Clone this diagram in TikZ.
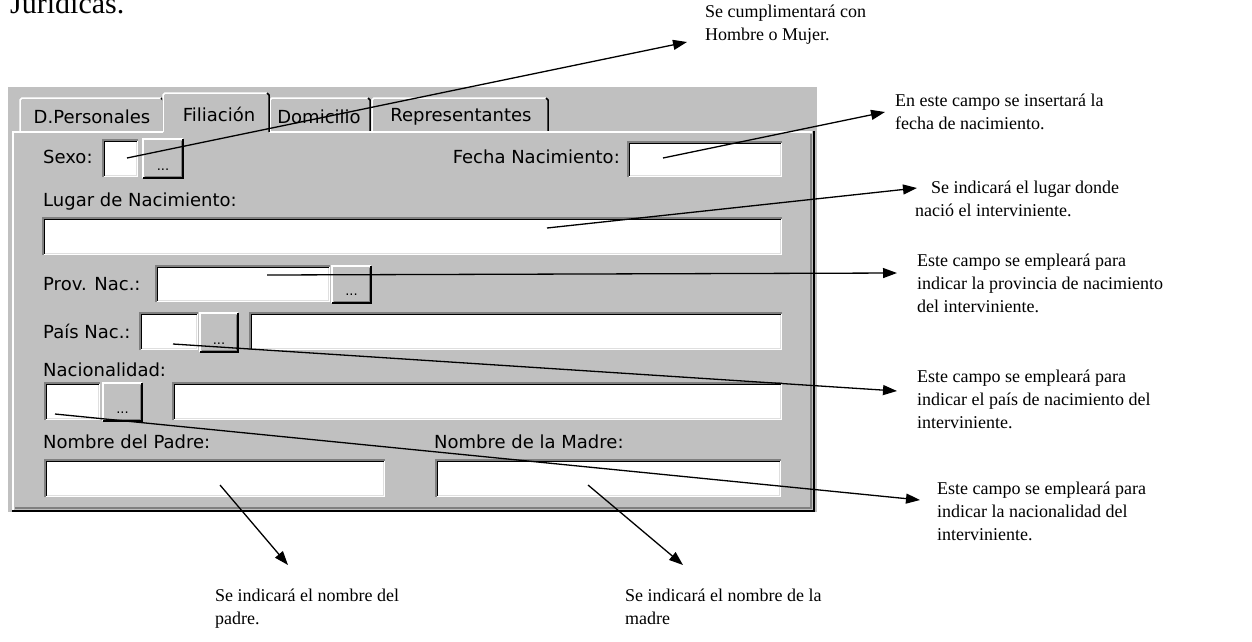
\documentclass[tikz,border=0pt]{standalone}
\usepackage{fontspec}
\setmainfont{Liberation Serif}
\newfontfamily\uifont{DejaVu Sans}
\usetikzlibrary{arrows.meta}

\definecolor{wingray}{HTML}{C0C0C0}
\definecolor{windark}{HTML}{808080}
\definecolor{winlight}{HTML}{DFDFDF}

\tikzset{
    note/.style={font=\fontsize{18}{23}\selectfont, align=left, anchor=north west, inner sep=0pt},
    ui/.style={font=\uifont\fontsize{18}{20}\selectfont, inner sep=0pt, text=black},
    pointer/.style={line width=1.3pt, -{Triangle[length=14pt,width=10pt]}},
    bevel/.style={line width=1.5pt},
}

% sunken text field: x1 y1 x2 y2
\newcommand{\editfield}[4]{%
    \fill[white] (#1,#2) rectangle (#3,#4);
    \draw[bevel, windark] (#1,#4) -- (#1,#2) -- (#3,#2);
    \draw[bevel, black] (#1+1.5,#4-1.5) -- (#1+1.5,#2+1.5) -- (#3-1.5,#2+1.5);
    \draw[bevel, winlight] (#1+1.5,#4-1.5) -- (#3-1.5,#4-1.5) -- (#3-1.5,#2+1.5);
}
% "..." button: name x1 y1 x2 y2
\newcommand{\dotbutton}[5]{%
    \fill[wingray] (#2,#3) rectangle (#4,#5);
    \draw[bevel, white] (#2,#5) -- (#2,#3) -- (#4,#3);
    \draw[bevel, black] (#2,#5) -- (#4,#5) -- (#4,#3);
    \draw[bevel, windark] (#2+1.5,#5-1.5) -- (#4-1.5,#5-1.5) -- (#4-1.5,#3+1.5);
    \node[ui, font=\uifont\fontsize{13}{14}\selectfont, anchor=base] (#1) at ({(#2+#4)/2},#5-8) {...};
}
% tab: x1 x2 ytop
\newcommand{\tabshape}[3]{%
    \fill[wingray] (#1,133) -- (#1,#3+2) -- (#1+2,#3) -- (#2-2,#3) -- (#2,#3+2) -- (#2,133) -- cycle;
    \draw[bevel, white] (#1,132) -- (#1,#3+2) -- (#1+2,#3) -- (#2-2,#3);
    \draw[bevel, black] (#2-2,#3) -- (#2,#3+2) -- (#2,132);
}

\begin{document}
\begin{tikzpicture}[x=1pt, y=-1pt]
    \useasboundingbox (0,0) rectangle (1252,641);
    \node[anchor=base west, inner sep=0pt, font=\fontsize{30}{34}\selectfont] (heading) at (10,13) {Jurídicas.};

    % window and tabs
    \fill[wingray] (8,87) rectangle (817,512);
    \tabshape{20}{163}{98}
    \tabshape{270}{370}{98}
    \tabshape{372}{548}{98}
    \draw[bevel, white] (13,510) -- (13,132) -- (812,132);
    \draw[bevel, black] (814,131) -- (814,511) -- (12,511);
    \draw[bevel, windark] (811,134) -- (811,508) -- (15,508);
    \tabshape{163}{269}{93}
    \fill[wingray] (164,130) rectangle (268,135);
    \node[ui] (tab-pers) at (92,117) {D.Personales};
    \node[ui] (tab-fil) at (219,114) {Filiación};
    \node[ui] (tab-dom) at (319,117) {Domicilio};
    \node[ui] (tab-rep) at (461,117) {Representantes};

    % fields
    \node[ui, anchor=west] (lbl-sexo) at (43,157) {Sexo:};
    \editfield{103}{140}{138}{177}
    \dotbutton{btn-sexo}{143}{139}{183}{178}
    \node[ui, anchor=east] (lbl-fecha) at (620,157) {Fecha Nacimiento:};
    \editfield{628}{142}{782}{177}
    \node[ui, anchor=west] (lbl-lugar) at (43,202) {Lugar de Nacimiento:};
    \editfield{43}{218}{782}{255}
    \node[ui, anchor=west] (lbl-prov) at (43,284) {Prov. Nac.:};
    \editfield{156}{266}{330}{302}
    \dotbutton{btn-prov}{332}{266}{371}{303}
    \node[ui, anchor=west] (lbl-pais) at (43,331) {País Nac.:};
    \editfield{140}{313}{198}{350}
    \dotbutton{btn-pais}{200}{313}{238}{352}
    \editfield{250}{313}{782}{350}
    \node[ui, anchor=west] (lbl-nac) at (43,370) {Nacionalidad:};
    \editfield{45}{383}{100}{420}
    \dotbutton{btn-nac}{103}{383}{142}{421}
    \editfield{173}{383}{782}{420}
    \node[ui, anchor=west] (lbl-padre) at (43,442) {Nombre del Padre:};
    \editfield{45}{460}{385}{497}
    \node[ui, anchor=west] (lbl-madre) at (434,442) {Nombre de la Madre:};
    \editfield{436}{460}{781}{497}

    % notes
    \node[note] (note-sexo) at (705,5) {Se cumplimentará con\\Hombre o Mujer.};
    \node[note] (note-fecha) at (895,94) {En este campo se insertará la\\fecha de nacimiento.};
    \node[note] (note-lugar) at (915,181) {\hspace*{16pt}Se indicará el lugar donde\\nació el interviniente.};
    \node[note] (note-prov) at (917,254) {Este campo se empleará para\\indicar la provincia de nacimiento\\del interviniente.};
    \node[note] (note-pais) at (917,370) {Este campo se empleará para\\indicar el país de nacimiento del\\interviniente.};
    \node[note] (note-nac) at (937,482) {Este campo se empleará para\\indicar la nacionalidad del\\interviniente.};
    \node[note] (note-padre) at (215,589) {Se indicará el nombre del\\padre.};
    \node[note] (note-madre) at (625,589) {Se indicará el nombre de la\\madre};

    % pointers
    \coordinate (sexo-pt) at (127,158);
    \coordinate (sexo-tip) at (687,42);
    \coordinate (fecha-pt) at (663,158);
    \coordinate (fecha-tip) at (885,112);
    \coordinate (lugar-pt) at (547,228);
    \coordinate (lugar-tip) at (917,188);
    \coordinate (prov-pt) at (267,275);
    \coordinate (prov-tip) at (897,273);
    \coordinate (pais-pt) at (173,344);
    \coordinate (pais-tip) at (897,391);
    \coordinate (nac-pt) at (55,414);
    \coordinate (nac-tip) at (920,500);
    \coordinate (padre-pt) at (220,485);
    \coordinate (padre-tip) at (288,565);
    \coordinate (madre-pt) at (588,485);
    \coordinate (madre-tip) at (683,565);
    \draw[pointer] (sexo-pt) -- (sexo-tip);
    \draw[pointer] (fecha-pt) -- (fecha-tip);
    \draw[pointer] (lugar-pt) -- (lugar-tip);
    \draw[pointer] (prov-pt) -- (prov-tip);
    \draw[pointer] (pais-pt) -- (pais-tip);
    \draw[pointer] (nac-pt) -- (nac-tip);
    \draw[pointer] (padre-pt) -- (padre-tip);
    \draw[pointer] (madre-pt) -- (madre-tip);
\end{tikzpicture}
\end{document}
